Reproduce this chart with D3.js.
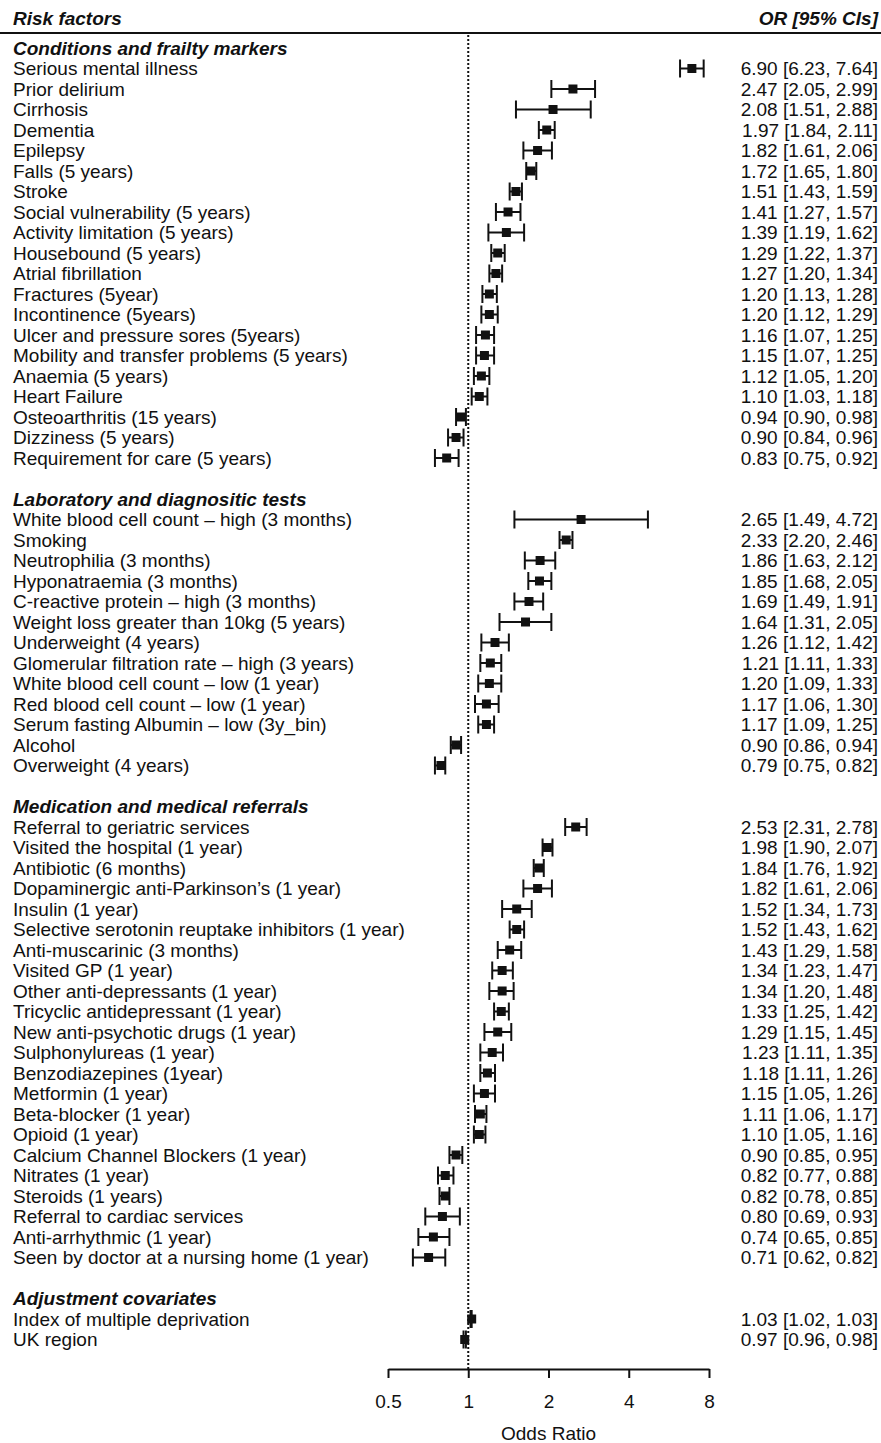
<!DOCTYPE html>
<html>
<head>
<meta charset="utf-8">
<script src="https://cdn.jsdelivr.net/npm/d3@7"></script>
<title>Forest plot</title>
<style>
body { margin: 0; background: #fff; }
text { font-family: "Liberation Sans", Arial, sans-serif; fill: #111; }
</style>
</head>
<body>
<svg id="canvas"></svg>
<script>
// section headings
var groupTitles = ["Conditions and frailty markers", "Laboratory and diagnositic tests",
                   "Medication and medical referrals", "Adjustment covariates"];

// Conditions and frailty markers
var condLabels = ["Serious  mental illness", "Prior delirium", "Cirrhosis", "Dementia", "Epilepsy",
  "Falls (5 years)", "Stroke", "Social vulnerability (5 years)", "Activity limitation (5 years)",
  "Housebound (5 years)", "Atrial fibrillation", "Fractures (5year)", "Incontinence (5years)",
  "Ulcer and pressure sores (5years)", "Mobility and transfer problems (5 years)", "Anaemia (5 years)",
  "Heart Failure", "Osteoarthritis (15 years)", "Dizziness (5 years)", "Requirement for care (5 years)"];
var condOR = [6.90, 2.47, 2.08, 1.97, 1.82, 1.72, 1.51, 1.41, 1.39, 1.29, 1.27, 1.20, 1.20, 1.16, 1.15, 1.12, 1.10, 0.94, 0.90, 0.83];
var condLo = [6.23, 2.05, 1.51, 1.84, 1.61, 1.65, 1.43, 1.27, 1.19, 1.22, 1.20, 1.13, 1.12, 1.07, 1.07, 1.05, 1.03, 0.90, 0.84, 0.75];
var condHi = [7.64, 2.99, 2.88, 2.11, 2.06, 1.80, 1.59, 1.57, 1.62, 1.37, 1.34, 1.28, 1.29, 1.25, 1.25, 1.20, 1.18, 0.98, 0.96, 0.92];

// Laboratory and diagnostic tests
var labLabels = ["White blood cell count \u2013 high (3 months)", "Smoking", "Neutrophilia (3 months)",
  "Hyponatraemia (3 months)", "C-reactive protein \u2013 high (3 months)", "Weight loss greater than 10kg (5 years)",
  "Underweight (4 years)", "Glomerular filtration rate \u2013 high (3 years)", "White blood cell count \u2013 low (1 year)",
  "Red blood cell count \u2013 low (1 year)", "Serum fasting Albumin \u2013 low (3y_bin)", "Alcohol", "Overweight (4 years)"];
var labOR = [2.65, 2.33, 1.86, 1.85, 1.69, 1.64, 1.26, 1.21, 1.20, 1.17, 1.17, 0.90, 0.79];
var labLo = [1.49, 2.20, 1.63, 1.68, 1.49, 1.31, 1.12, 1.11, 1.09, 1.06, 1.09, 0.86, 0.75];
var labHi = [4.72, 2.46, 2.12, 2.05, 1.91, 2.05, 1.42, 1.33, 1.33, 1.30, 1.25, 0.94, 0.82];

// Medication and medical referrals
var medLabels = ["Referral to geriatric services", "Visited the hospital (1 year)", "Antibiotic (6 months)",
  "Dopaminergic anti-Parkinson\u2019s (1 year)", "Insulin (1 year)", "Selective serotonin reuptake inhibitors (1 year)",
  "Anti-muscarinic  (3 months)", "Visited GP (1 year)", "Other anti-depressants (1 year)",
  "Tricyclic antidepressant (1 year)", "New anti-psychotic drugs (1 year)", "Sulphonylureas (1 year)",
  "Benzodiazepines (1year)", "Metformin (1 year)", "Beta-blocker (1 year)", "Opioid (1 year)",
  "Calcium Channel Blockers (1 year)", "Nitrates (1 year)", "Steroids (1 years)", "Referral to cardiac services",
  "Anti-arrhythmic (1 year)", "Seen by doctor at a nursing home (1 year)"];
var medOR = [2.53, 1.98, 1.84, 1.82, 1.52, 1.52, 1.43, 1.34, 1.34, 1.33, 1.29, 1.23, 1.18, 1.15, 1.11, 1.10, 0.90, 0.82, 0.82, 0.80, 0.74, 0.71];
var medLo = [2.31, 1.90, 1.76, 1.61, 1.34, 1.43, 1.29, 1.23, 1.20, 1.25, 1.15, 1.11, 1.11, 1.05, 1.06, 1.05, 0.85, 0.77, 0.78, 0.69, 0.65, 0.62];
var medHi = [2.78, 2.07, 1.92, 2.06, 1.73, 1.62, 1.58, 1.47, 1.48, 1.42, 1.45, 1.35, 1.26, 1.26, 1.17, 1.16, 0.95, 0.88, 0.85, 0.93, 0.85, 0.82];

// Adjustment covariates
var adjLabels = ["Index of multiple deprivation", "UK region"];
var adjOR = [1.03, 0.97];
var adjLo = [1.02, 0.96];
var adjHi = [1.03, 0.98];

var tickVals = [0.5, 1, 2, 4, 8];

var width = 881, height = 1443;
var fs = "19px";
var svg = d3.select("#canvas").attr("width", width).attr("height", height);

// build row list: heading, items, blank
var groups = [
  [condLabels, condOR, condLo, condHi],
  [labLabels, labOR, labLo, labHi],
  [medLabels, medOR, medLo, medHi],
  [adjLabels, adjOR, adjLo, adjHi]
];
var rows = [];
var r = 0;
groups.forEach(function(g, gi) {
  rows.push({type: "head", label: groupTitles[gi], row: r++});
  g[0].forEach(function(lab, i) {
    rows.push({type: "item", label: lab, or: g[1][i], lo: g[2][i], hi: g[3][i], row: r++});
  });
  r++;
});

var yScale = d3.scaleLinear().domain([0, 1]).range([48, 68.5]);
var xScale = d3.scaleLog().base(2).domain([0.5, 8]).range([388, 709]);
var fmt = d3.format(".2f");
var axisY = 1369;

// top header
svg.append("text").attr("x", 13).attr("y", 18).attr("dy", "0.35em")
   .style("font-size", fs).style("font-weight", "bold").style("font-style", "italic")
   .text("Risk factors");
svg.append("text").attr("x", 878).attr("y", 18).attr("dy", "0.35em").attr("text-anchor", "end")
   .style("font-size", fs).style("font-weight", "bold").style("font-style", "italic")
   .text("OR [95% CIs]");
svg.append("line").attr("x1", 0).attr("x2", width).attr("y1", 33).attr("y2", 33)
   .attr("stroke", "#111").attr("stroke-width", 2);

// reference line at OR = 1
svg.append("line").attr("x1", xScale(1)).attr("x2", xScale(1)).attr("y1", 35).attr("y2", axisY)
   .attr("stroke", "#111").attr("stroke-width", 2).attr("stroke-dasharray", "2,2");

// labels
svg.append("g").selectAll("text").data(rows).enter().append("text")
   .attr("x", 13).attr("y", function(d) { return yScale(d.row); }).attr("dy", "0.35em")
   .style("font-size", fs)
   .style("font-weight", function(d) { return d.type == "head" ? "bold" : "normal"; })
   .style("font-style", function(d) { return d.type == "head" ? "italic" : "normal"; })
   .text(function(d) { return d.label; });

var items = rows.filter(function(d) { return d.type == "item"; });

// OR text on the right
svg.append("g").selectAll("text").data(items).enter().append("text")
   .attr("x", 878).attr("y", function(d) { return yScale(d.row); }).attr("dy", "0.35em")
   .attr("text-anchor", "end").style("font-size", fs)
   .text(function(d) { return fmt(d.or) + " [" + fmt(d.lo) + ", " + fmt(d.hi) + "]"; });

// CI lines + caps + boxes
var ci = svg.append("g").selectAll("g").data(items).enter().append("g");
ci.append("line")
  .attr("x1", function(d) { return xScale(d.lo); }).attr("x2", function(d) { return xScale(d.hi); })
  .attr("y1", function(d) { return yScale(d.row); }).attr("y2", function(d) { return yScale(d.row); })
  .attr("stroke", "#111").attr("stroke-width", 2);
["lo", "hi"].forEach(function(k) {
  ci.append("line")
    .attr("x1", function(d) { return xScale(d[k]); }).attr("x2", function(d) { return xScale(d[k]); })
    .attr("y1", function(d) { return yScale(d.row) - 9; }).attr("y2", function(d) { return yScale(d.row) + 9; })
    .attr("stroke", "#111").attr("stroke-width", 2);
});
ci.append("rect")
  .attr("x", function(d) { return xScale(d.or) - 4.5; }).attr("y", function(d) { return yScale(d.row) - 4.5; })
  .attr("width", 9).attr("height", 9).attr("fill", "#111");

// x axis
var xAxis = d3.axisBottom(xScale).tickValues(tickVals).tickFormat(function(d) { return d; })
              .tickSize(9).tickSizeOuter(0);
var ax = svg.append("g").attr("transform", "translate(0," + axisY + ")").call(xAxis);
ax.select(".domain").attr("stroke", "#111").attr("stroke-width", 2);
ax.selectAll(".tick line").attr("stroke", "#111").attr("stroke-width", 2);
ax.selectAll(".tick text").attr("y", 0).attr("dy", "2.05em")
  .style("font-size", fs).style("font-family", "Liberation Sans, Arial, sans-serif").attr("fill", "#111");

svg.append("text").attr("x", xScale(2)).attr("y", 1433).attr("dy", "0.35em").attr("text-anchor", "middle")
   .style("font-size", fs).text("Odds Ratio");
</script>
</body>
</html>
